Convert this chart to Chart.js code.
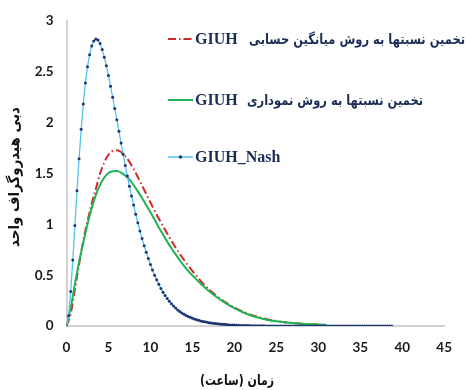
<!DOCTYPE html>
<html>
<head>
<meta charset="utf-8">
<script src="https://cdn.jsdelivr.net/npm/chart.js@4/dist/chart.umd.min.js"></script>
<style>
  html, body { margin: 0; padding: 0; background: #fff; }
  #wrap { width: 466px; height: 390px; position: relative; }
</style>
</head>
<body>
<div id="wrap"><canvas id="c" width="466" height="390"></canvas></div>
<script>
// Unit hydrograph ordinates (time in hours)

// GIUH_Nash, sampled every quarter hour
const nashTime = [
  0,0.25,0.5,0.75,1,1.25,1.5,1.75,2,2.25,2.5,2.75,3,3.25,3.5,3.75,
  4,4.25,4.5,4.75,5,5.25,5.5,5.75,6,6.25,6.5,6.75,7,7.25,7.5,7.75,
  8,8.25,8.5,8.75,9,9.25,9.5,9.75,10,10.25,10.5,10.75,11,11.25,11.5,11.75,
  12,12.25,12.5,12.75,13,13.25,13.5,13.75,14,14.25,14.5,14.75,15,15.25,15.5,15.75,
  16,16.25,16.5,16.75,17,17.25,17.5,17.75,18,18.25,18.5,18.75,19,19.25,19.5,19.75,
  20,20.25,20.5,20.75,21,21.25,21.5,21.75,22,22.25,22.5,22.75,23,23.25,23.5,23.75,
  24,24.25,24.5,24.75,25,25.25,25.5,25.75,26,26.25,26.5,26.75,27,27.25,27.5,27.75,
  28,28.25,28.5,28.75,29,29.25,29.5,29.75,30,30.25,30.5,30.75,31,31.25,31.5,31.75,
  32,32.25,32.5,32.75,33,33.25,33.5,33.75,34,34.25,34.5,34.75,35,35.25,35.5,35.75,
  36,36.25,36.5,36.75,37,37.25,37.5,37.75,38,38.25,38.5,38.75
];
const nashFlow = [
  0,0.10,0.34,0.65,0.99,1.33,1.645,1.935,
  2.185,2.39,2.55,2.67,2.755,2.805,2.825,2.815,
  2.78,2.72,2.645,2.56,2.465,2.36,2.25,2.14,
  2.03,1.915,1.80,1.69,1.58,1.475,1.375,1.28,
  1.19,1.10,1.015,0.935,0.86,0.79,0.725,0.665,
  0.605,0.55,0.50,0.455,0.41,0.37,0.333,0.30,
  0.27,0.243,0.218,0.196,0.176,0.158,0.142,0.128,
  0.115,0.104,0.094,0.085,0.076,0.069,0.062,0.056,
  0.05,0.045,0.041,0.037,0.033,0.03,0.027,0.024,
  0.022,0.02,0.018,0.016,0.014,0.013,0.011,0.01,
  0.009,0.008,0.007,0.006,0.006,0.005,0.004,0.004,
  0.003,0.003,0.003,0.002,0.002,0.002,0.002,0.001,
  0.001,0.001,0.001,0.001,0.001,0.001,0.001,0.001,
  0.001,0.001,0.001,0.001,0,0,0,0,
  0,0,0,0,0,0,0,0,0,0,0,0,0,0,0,0,
  0,0,0,0,0,0,0,0,0,0,0,0,0,0,0,0,
  0,0,0,0,0,0,0,0,0,0,0,0
];

// GIUH with ratios estimated from the graphical method
const graphTime = [
  0,0.5,1,1.5,2,2.5,3,3.5,4,4.5,5,5.5,6,6.5,7,7.5,8,8.5,9,9.5,10,
  10.5,11,11.5,12,12.5,13,13.5,14,14.5,15,16,17,18,19,20,21,22,23,24,25,26,27,28,29,30,31
];
const graphFlow = [
  0,0.18,0.41,0.63,0.82,1.0,1.16,1.29,1.39,1.46,1.505,1.522,1.525,1.51,1.48,1.44,1.385,1.325,1.26,1.19,1.12,
  1.045,0.97,0.9,0.83,0.765,0.705,0.645,0.592,0.543,0.498,0.415,0.342,0.278,0.222,0.175,0.135,0.103,0.078,0.06,0.047,0.037,0.029,0.023,0.018,0.014,0.011
];

// GIUH with ratios estimated from the arithmetic-mean method
const meanTime = [
  0,0.5,1,1.5,2,2.5,3,3.5,4,4.5,5,5.5,6,6.5,7,7.5,8,8.5,9,9.5,10,
  10.5,11,11.5,12,12.5,13,13.5,14,14.5,15,16,17,18,19,20,21,22,23,24,25,26,27,28,29,30
];
const meanFlow = [
  0,0.12,0.36,0.61,0.84,1.03,1.2,1.35,1.5,1.61,1.685,1.722,1.73,1.712,1.672,1.615,1.545,1.465,1.382,1.298,1.215,
  1.135,1.058,0.982,0.91,0.84,0.772,0.71,0.65,0.595,0.542,0.442,0.358,0.288,0.23,0.182,0.142,0.11,0.085,0.065,0.05,0.038,0.029,0.022,0.017,0.013
];

const xTicks = [0,5,10,15,20,25,30,35,40,45];
const yTicks = [0,0.5,1,1.5,2,2.5,3];

const seriesNames = [
  'تخمین نسبتها به روش میانگین حسابی',
  'تخمین نسبتها به روش نموداری',
  'GIUH_Nash'
];
const yTitle = 'دبی هیدروگراف واحد';
const xTitle = 'زمان (ساعت)';

const toPoints = (xs, ys) => xs.map((x, i) => ({ x: x, y: ys[i] }));

const RED = '#cf2a2a';
const GREEN = '#1fb356';
const SKY = '#55c3f0';
const NAVY = '#1f3572';
const TEXT_NAVY = '#1b2d57';
const ARABIC_FONT = '"DejaVu Sans"';

// Persian text at a given size, squeezed horizontally to a given width.
// align: 'left' -> x is left edge, 'center' -> x is centre
function drawPersian(ctx, text, x, y, size, width, align) {
  ctx.save();
  ctx.font = 'bold ' + size + 'px ' + ARABIC_FONT;
  ctx.direction = 'rtl';
  const w = ctx.measureText(text).width;
  const k = Math.min(1, width / w);
  ctx.translate(x, y);
  ctx.scale(k, 1);
  ctx.textBaseline = 'middle';
  if (align === 'center') {
    ctx.textAlign = 'center';
    ctx.fillText(text, 0, 0);
  } else {
    ctx.textAlign = 'left';
    ctx.fillText(text, 0, 0);
  }
  ctx.restore();
}

const annotate = {
  id: 'annotate',
  afterDraw(chart) {
    const ctx = chart.ctx;
    ctx.save();

    // axis titles
    ctx.fillStyle = '#111';
    drawPersian(ctx, xTitle, 237, 381, 14, 74, 'center');

    ctx.save();
    ctx.translate(15, 177);
    ctx.rotate(-Math.PI / 2);
    drawPersian(ctx, yTitle, 0, 0, 15, 140, 'center');
    ctx.restore();

    // legend
    const rows = [
      { y: 39, color: RED, dash: [8, 3, 1.5, 3], w: 2, name: seriesNames[0], tag: 'GIUH', px: 249, pw: 216 },
      { y: 100, color: GREEN, dash: [], w: 2, name: seriesNames[1], tag: 'GIUH', px: 247, pw: 176 },
      { y: 157, color: SKY, dash: [], w: 1.5, name: null, tag: seriesNames[2], dot: true }
    ];
    rows.forEach(r => {
      ctx.save();
      ctx.strokeStyle = r.color;
      ctx.lineWidth = r.w;
      ctx.setLineDash(r.dash);
      ctx.beginPath();
      ctx.moveTo(168, r.y);
      ctx.lineTo(193, r.y);
      ctx.stroke();
      ctx.restore();
      if (r.dot) {
        ctx.fillStyle = NAVY;
        ctx.beginPath();
        ctx.arc(180.5, r.y, 1.8, 0, Math.PI * 2);
        ctx.fill();
      }
      ctx.direction = 'ltr';
      ctx.textAlign = 'left';
      ctx.textBaseline = 'middle';
      ctx.fillStyle = TEXT_NAVY;
      ctx.font = 'bold 16px "Liberation Serif"';
      ctx.fillText(r.tag, 195, r.y + 1);
      if (r.name) {
        drawPersian(ctx, r.name, r.px, r.y + 1, 14, r.pw, 'left');
      }
    });
    ctx.restore();
  }
};

new Chart(document.getElementById('c'), {
  type: 'line',
  data: {
    datasets: [
      {
        label: seriesNames[2],
        data: toPoints(nashTime, nashFlow),
        borderColor: SKY,
        borderWidth: 1.3,
        pointRadius: 1.5,
        pointBackgroundColor: NAVY,
        pointBorderColor: NAVY,
        pointBorderWidth: 0,
        tension: 0,
        order: 0
      },
      {
        label: seriesNames[1],
        data: toPoints(graphTime, graphFlow),
        borderColor: GREEN,
        borderWidth: 2,
        pointRadius: 0,
        cubicInterpolationMode: 'monotone',
        order: 1
      },
      {
        label: seriesNames[0],
        data: toPoints(meanTime, meanFlow),
        borderColor: RED,
        borderWidth: 2,
        borderDash: [8, 3, 1.5, 3],
        pointRadius: 0,
        cubicInterpolationMode: 'monotone',
        order: 2
      }
    ]
  },
  options: {
    responsive: false,
    animation: false,
    devicePixelRatio: 1,
    layout: { padding: { left: 0, right: 14, top: 18, bottom: 0 } },
    plugins: { legend: { display: false }, tooltip: { enabled: false } },
    scales: {
      x: {
        type: 'linear',
        min: 0, max: 45,
        afterFit(scale) { scale.height = 64; },
        afterBuildTicks(scale) { scale.ticks = xTicks.map(v => ({ value: v })); },
        grid: { display: false, drawTicks: false },
        border: { display: true, color: '#d2d2d2', width: 2 },
        ticks: {
          padding: 14,
          color: '#1a1a1a',
          font: { family: 'Lato', weight: 'bold', size: 13.5 },
          maxRotation: 0
        }
      },
      y: {
        type: 'linear',
        min: 0, max: 3,
        afterFit(scale) { scale.width = 66.5; },
        afterBuildTicks(scale) { scale.ticks = yTicks.map(v => ({ value: v })); },
        grid: { display: false, drawTicks: false },
        border: { display: true, color: '#d2d2d2', width: 2 },
        ticks: {
          padding: 13,
          color: '#1a1a1a',
          font: { family: 'Lato', weight: 'bold', size: 13.5 },
          callback: v => String(v)
        }
      }
    }
  },
  plugins: [annotate]
});
</script>
</body>
</html>
